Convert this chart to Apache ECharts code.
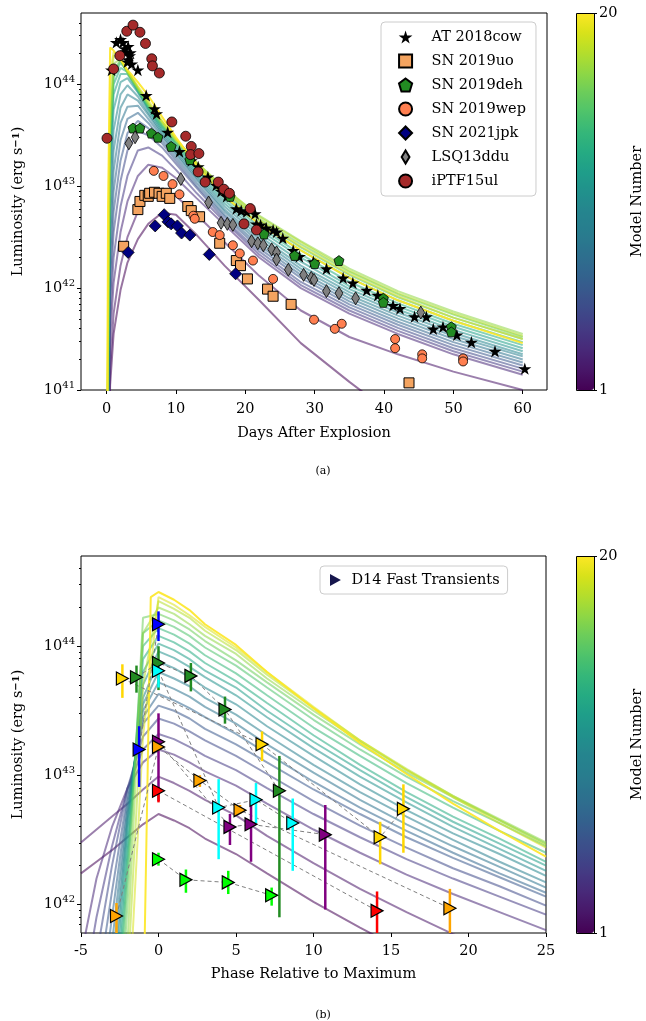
<!DOCTYPE html>
<html>
<head>
<meta charset="utf-8">
<script src="https://cdn.jsdelivr.net/npm/echarts@6/dist/echarts.min.js"></script>
<style>
  html, body { margin: 0; padding: 0; background: #fff; }
  #chart { width: 646px; height: 1021px; }
</style>
</head>
<body>
<div id="chart"></div>
<script>
  // ---- panel (a): model light curves, log10 L at fixed days ----
  const T_A = [0, 0.2, 0.5, 1, 2, 3, 4.5, 6, 8, 10, 13, 17, 22, 28, 35, 42, 50, 60];
  const MODEL_A = [
    [39, 40.0, 41.05, 41.55, 41.98, 42.25, 42.48, 42.63, 42.74, 42.72, 42.52, 42.22, 41.88, 41.46, 41.08, 40.72, 40.3, 39.8],
    [39, 40.2, 41.2, 41.75, 42.22, 42.5, 42.75, 42.93, 42.97, 42.9, 42.72, 42.45, 42.12, 41.78, 41.52, 41.35, 41.18, 41.0],
    [39, 40.3, 41.5, 42.05, 42.55, 42.85, 43.1, 43.21, 43.18, 43.08, 42.88, 42.62, 42.3, 42.0, 41.75, 41.55, 41.35, 41.15],
    [39, 40.3, 41.7, 42.3, 42.8, 43.1, 43.35, 43.38, 43.3, 43.16, 42.93, 42.65, 42.33, 42.03, 41.78, 41.58, 41.38, 41.18],
    [39, 40.4, 41.9, 42.55, 43.05, 43.35, 43.54, 43.5, 43.38, 43.22, 42.98, 42.67, 42.36, 42.06, 41.81, 41.61, 41.41, 41.21],
    [39, 40.5, 42.1, 42.75, 43.25, 43.52, 43.64, 43.57, 43.42, 43.25, 43.0, 42.7, 42.39, 42.1, 41.84, 41.64, 41.44, 41.24],
    [39, 40.6, 42.3, 42.95, 43.45, 43.66, 43.72, 43.62, 43.45, 43.28, 43.03, 42.72, 42.42, 42.13, 41.87, 41.67, 41.47, 41.27],
    [39, 40.7, 42.5, 43.15, 43.62, 43.78, 43.79, 43.66, 43.48, 43.31, 43.06, 42.75, 42.45, 42.16, 41.9, 41.7, 41.5, 41.3],
    [39, 40.8, 42.7, 43.35, 43.77, 43.9, 43.84, 43.7, 43.5, 43.33, 43.08, 42.77, 42.48, 42.19, 41.93, 41.73, 41.53, 41.33],
    [39, 40.9, 42.9, 43.55, 43.9, 43.99, 43.88, 43.72, 43.52, 43.35, 43.1, 42.8, 42.51, 42.22, 41.96, 41.76, 41.56, 41.35],
    [39, 41.0, 43.1, 43.75, 44.02, 44.06, 43.92, 43.75, 43.54, 43.37, 43.12, 42.83, 42.54, 42.26, 41.99, 41.79, 41.59, 41.38],
    [39, 41.1, 43.25, 43.9, 44.1, 44.1, 43.93, 43.76, 43.56, 43.39, 43.14, 42.86, 42.57, 42.3, 42.02, 41.82, 41.62, 41.41],
    [39, 41.2, 43.35, 44.0, 44.16, 44.12, 43.94, 43.77, 43.58, 43.41, 43.16, 42.89, 42.6, 42.33, 42.06, 41.85, 41.65, 41.44],
    [39, 41.3, 43.45, 44.07, 44.21, 44.13, 43.95, 43.78, 43.59, 43.42, 43.18, 42.92, 42.63, 42.37, 42.1, 41.88, 41.68, 41.47],
    [39, 41.35, 43.5, 44.1, 44.23, 44.12, 43.95, 43.79, 43.6, 43.43, 43.2, 42.94, 42.66, 42.4, 42.13, 41.91, 41.71, 41.5],
    [39, 41.4, 43.55, 44.13, 44.24, 44.11, 43.95, 43.8, 43.61, 43.44, 43.21, 42.96, 42.68, 42.43, 42.16, 41.94, 41.74, 41.52],
    [39, 41.5, 43.6, 44.2, 44.25, 44.12, 43.96, 43.81, 43.63, 43.46, 43.23, 42.98, 42.71, 42.46, 42.19, 41.97, 41.77, 41.55],
    [39, 41.7, 43.8, 44.28, 44.26, 44.13, 43.97, 43.82, 43.63, 43.46, 43.23, 42.98, 42.7, 42.45, 42.17, 41.95, 41.75, 41.53],
    [39, 42.0, 44.1, 44.32, 44.25, 44.13, 43.98, 43.84, 43.64, 43.46, 43.22, 42.95, 42.67, 42.41, 42.14, 41.92, 41.71, 41.5],
    [39, 42.8, 44.36, 44.33, 44.24, 44.14, 44.02, 43.89, 43.68, 43.48, 43.2, 42.9, 42.63, 42.37, 42.1, 41.88, 41.68, 41.46]
  ];

  // ---- panel (a): observed transients [day, log10 L] ----
  const AT2018COW = [[0.7, 44.14], [1.4, 44.41], [2.0, 44.44], [2.35, 44.41], [2.6, 44.35], [2.8, 44.32], [3.1, 44.37], [3.3, 44.28], [3.4, 44.31], [3.0, 44.22], [3.1, 44.24], [3.6, 44.20], [4.5, 44.14], [5.7, 43.89], [6.9, 43.76], [7.2, 43.71], [8.8, 43.53], [10.5, 43.34], [12.2, 43.25], [13.2, 43.19], [14.6, 43.09], [15.8, 43.01], [16.5, 42.95], [17.3, 42.90], [18.7, 42.78], [19.4, 42.76], [20.2, 42.75], [21.4, 42.73], [21.6, 42.63], [22.2, 42.62], [23.0, 42.59], [24.0, 42.57], [24.5, 42.55], [25.4, 42.49], [26.9, 42.37], [27.8, 42.31], [29.8, 42.26], [31.7, 42.19], [34.1, 42.10], [35.5, 42.05], [37.5, 41.98], [39.1, 41.93], [41.3, 41.83], [42.3, 41.80], [44.4, 41.72], [46.1, 41.72], [47.1, 41.60], [48.5, 41.62], [50.5, 41.54], [52.6, 41.47], [56.0, 41.38], [60.3, 41.21]];
  const SN2019UO = [[2.45, 42.41], [4.5, 42.77], [4.8, 42.85], [5.5, 42.91], [6.0, 42.90], [6.2, 42.93], [6.9, 42.94], [7.55, 42.93], [8.0, 42.90], [8.6, 42.93], [9.1, 42.88], [11.7, 42.80], [12.2, 42.76], [13.4, 42.70], [16.3, 42.44], [18.7, 42.27], [19.3, 42.22], [20.3, 42.09], [23.2, 41.99], [24.0, 41.92], [26.6, 41.84], [43.6, 41.07]];
  const SN2019DEH = [[3.8, 43.57], [4.8, 43.57], [6.45, 43.52], [7.4, 43.48], [9.3, 43.39], [12.0, 43.26], [17.8, 42.90], [22.7, 42.53], [27.1, 42.32], [30.0, 42.24], [33.5, 42.27], [39.9, 41.90], [39.9, 41.86], [49.7, 41.62], [49.7, 41.57]];
  const SN2019WEP = [[6.8, 43.15], [8.2, 43.10], [9.5, 43.02], [10.5, 42.92], [12.5, 42.71], [12.7, 42.68], [15.3, 42.55], [16.3, 42.52], [18.2, 42.42], [19.2, 42.34], [21.1, 42.27], [24.0, 42.09], [29.9, 41.69], [32.9, 41.60], [33.9, 41.65], [41.6, 41.50], [41.6, 41.41], [45.5, 41.35], [45.5, 41.31], [51.4, 41.31], [51.4, 41.28]];
  const SN2021JPK = [[3.1, 42.35], [7.0, 42.61], [8.3, 42.72], [8.85, 42.65], [9.3, 42.63], [10.2, 42.61], [10.8, 42.54], [12.0, 42.52], [14.8, 42.33], [18.6, 42.14]];
  const LSQ13DDU = [[3.2, 43.42], [4.1, 43.48], [10.7, 43.07], [14.7, 42.84], [16.5, 42.64], [17.4, 42.63], [18.2, 42.62], [20.9, 42.46], [21.8, 42.44], [22.6, 42.42], [23.8, 42.38], [24.5, 42.35], [24.5, 42.28], [26.2, 42.18], [28.4, 42.13], [29.5, 42.10], [29.9, 42.08], [31.7, 41.97], [33.5, 41.95], [35.9, 41.90], [45.3, 41.76]];
  const IPTF15UL = [[0.05, 43.47], [1.0, 44.15], [1.9, 44.28], [2.9, 44.52], [3.8, 44.58], [4.8, 44.51], [5.6, 44.40], [6.5, 44.25], [6.6, 44.18], [7.6, 44.11], [9.4, 43.63], [11.4, 43.49], [12.2, 43.39], [12.1, 43.31], [13.3, 43.32], [13.2, 43.14], [14.2, 43.04], [16.1, 43.04], [16.9, 42.97], [17.7, 42.93], [19.8, 42.63], [20.7, 42.78], [21.6, 42.57]];

  // ---- panel (b): model curves vs phase, log10 L (null = not sampled) ----
  const P_B = [-5, -4, -3, -2, -1, -0.5, 0, 1, 2, 3, 5, 7, 10, 13, 16, 19, 22, 25];
  const MODEL_B = [
    [42.24, 42.33, 42.42, 42.52, 42.62, null, 42.70, 42.65, 42.59, 42.51, 42.39, 42.24, 42.02, 41.82, 41.63, 41.46, 41.31, 41.15],
    [42.48, 42.58, 42.68, 42.78, 42.89, null, 42.99, 42.94, 42.88, 42.81, 42.69, 42.53, 42.32, 42.12, 41.94, 41.77, 41.62, 41.47],
    [41.6, 42.2, 42.6, 42.9, 43.1, null, 43.20, 43.16, 43.10, 43.03, 42.92, 42.78, 42.58, 42.40, 42.23, 42.08, 41.94, 41.80],
    [41.2, 41.9, 42.45, 42.9, 43.2, null, 43.32, 43.28, 43.22, 43.15, 43.04, 42.90, 42.70, 42.52, 42.35, 42.20, 42.06, 41.92],
    [40.9, 41.6, 42.3, 42.9, 43.3, null, 43.44, 43.40, 43.34, 43.27, 43.15, 43.01, 42.80, 42.61, 42.44, 42.28, 42.14, 41.99],
    [40.6, 41.3, 42.1, 42.85, 43.4, null, 43.54, 43.50, 43.44, 43.36, 43.24, 43.10, 42.89, 42.70, 42.52, 42.36, 42.21, 42.06],
    [40.3, 41.0, 41.9, 42.8, 43.45, null, 43.63, 43.58, 43.52, 43.45, 43.32, 43.17, 42.95, 42.75, 42.57, 42.40, 42.24, 42.09],
    [40.0, 40.7, 41.7, 42.75, 43.5, null, 43.72, 43.67, 43.61, 43.53, 43.40, 43.24, 43.02, 42.81, 42.62, 42.45, 42.29, 42.13],
    [39.8, 40.4, 41.5, 42.7, 43.55, null, 43.80, 43.75, 43.69, 43.60, 43.47, 43.31, 43.08, 42.87, 42.68, 42.50, 42.33, 42.17],
    [39.6, 40.1, 41.3, 42.65, 43.6, null, 43.88, 43.83, 43.76, 43.68, 43.55, 43.38, 43.15, 42.93, 42.73, 42.55, 42.39, 42.22],
    [39.4, 39.9, 41.1, 42.6, 43.7, null, 43.96, 43.91, 43.84, 43.76, 43.62, 43.45, 43.21, 42.99, 42.79, 42.60, 42.43, 42.26],
    [39.2, 39.7, 40.9, 42.5, 43.8, null, 44.02, 43.97, 43.90, 43.81, 43.68, 43.50, 43.26, 43.04, 42.83, 42.64, 42.47, 42.30],
    [39.0, 39.5, 40.7, 42.4, 43.9, null, 44.08, 44.03, 43.96, 43.87, 43.73, 43.56, 43.31, 43.08, 42.87, 42.68, 42.51, 42.33],
    [38.8, 39.3, 40.5, 42.3, 44.0, null, 44.14, 44.09, 44.02, 43.93, 43.79, 43.62, 43.37, 43.15, 42.94, 42.75, 42.57, 42.40],
    [38.6, 39.1, 40.3, 42.2, 44.1, null, 44.20, 44.15, 44.08, 43.99, 43.85, 43.68, 43.43, 43.20, 42.99, 42.80, 42.63, 42.45],
    [38.4, 38.9, 40.1, 42.0, 44.22, null, 44.25, 44.20, 44.13, 44.04, 43.89, 43.72, 43.47, 43.24, 43.02, 42.83, 42.65, 42.47],
    [38.2, 38.7, 39.9, 41.7, 44.1, null, 44.30, 44.25, 44.17, 44.08, 43.94, 43.75, 43.50, 43.26, 43.04, 42.84, 42.66, 42.48],
    [38.0, 38.5, 39.7, 41.4, 43.7, null, 44.35, 44.29, 44.22, 44.12, 43.97, 43.78, 43.52, 43.27, 43.05, 42.84, 42.65, 42.46],
    [38.0, 38.3, 39.5, 41.0, 43.3, null, 44.38, 44.32, 44.24, 44.15, 43.99, 43.80, 43.53, 43.27, 43.04, 42.83, 42.63, 42.44],
    [38.0, 38.0, 38.5, 39.5, 41.0, 44.38, 44.42, 44.36, 44.28, 44.17, 44.01, 43.80, 43.52, 43.25, 43.01, 42.78, 42.57, 42.37]
  ];

  // ---- panel (b): D14 fast transients, [phase, log10 L] and [lo, hi] ----
  const D14_NAMES = ['gold', 'green', 'blue', 'cyan', 'purple', 'orange', 'red', 'lime'];
  const D14_PTS = [
    [[-2.33, 43.75], [6.68, 43.24], [14.3, 42.52], [15.8, 42.74]],
    [[-1.42, 43.76], [0, 43.87], [2.09, 43.77], [4.29, 43.51], [7.8, 42.88]],
    [[-1.25, 43.20], [0, 44.17]],
    [[0, 43.81], [3.88, 42.75], [6.29, 42.81], [8.66, 42.63]],
    [[0, 43.26], [4.61, 42.60], [5.97, 42.62], [10.76, 42.54]],
    [[-2.71, 41.91], [0, 43.22], [2.67, 42.96], [5.26, 42.73], [18.8, 41.97]],
    [[0, 42.88], [14.1, 41.95]],
    [[0, 42.35], [1.77, 42.19], [4.5, 42.17], [7.3, 42.07]]
  ];
  const D14_ERR = [
    [[43.60, 43.86], [43.11, 43.34], [42.31, 42.64], [42.40, 42.93]],
    [[43.64, 43.85], [43.66, 44.00], [43.65, 43.87], [43.40, 43.61], [41.90, 43.15]],
    [[42.91, 43.38], [44.04, 44.27]],
    [[43.68, 43.87], [42.35, 42.97], [42.63, 42.94], [42.26, 42.82]],
    [[42.80, 43.48], [42.46, 42.70], [42.33, 42.81], [41.96, 42.77]],
    [[41.70, 42.01], [43.19, 43.25], [42.91, 43.00], [42.70, 42.77], [41.75, 42.12]],
    [[42.79, 42.91], [41.75, 42.10]],
    [[42.30, 42.40], [42.09, 42.27], [42.08, 42.26], [41.99, 42.13]]
  ];

  const X_TICKS_A = [0, 10, 20, 30, 40, 50, 60];
  const Y_TICKS_A = [1e41, 1e42, 1e43, 1e44];
  const Y_TICKS_B = [1e42, 1e43, 1e44];

  const FONT = 'DejaVu Serif';
  const VIRIDIS = ['#440154', '#481668', '#482878', '#443983', '#3e4989', '#38588c', '#31668e', '#2c728e', '#287d8e', '#25858e',
    '#21918c', '#1f9e89', '#25ab82', '#35b779', '#4ec36b', '#6ccd5a', '#8fd744', '#b4de2c', '#d8e219', '#fde725'];
  const D14_COLORS = {gold: '#ffd700', green: '#228b22', blue: '#0000ff', cyan: '#00ffff', purple: '#800080', orange: '#ffa500', red: '#ff0000', lime: '#00ff00'};
  const STAR = 'path://M50,0 L61,35 L98,35 L68,57 L79,91 L50,70 L21,91 L32,57 L2,35 L39,35 Z';
  const PENTA = 'path://M50,0 L98,36 L80,95 L20,95 L2,36 Z';
  const SQUARE = 'path://M0,0 L100,0 L100,100 L0,100 Z';
  const DIAMOND = 'path://M50,0 L100,50 L50,100 L0,50 Z';
  const THIN_DIAMOND = 'path://M50,0 L80,50 L50,100 L20,50 Z';
  const TRI = 'path://M0,0 L100,55 L0,110 Z';

  function minorTicks(lo, hi) {
    let out = [];
    for (let e = 41; e <= 44; e++) {
      for (let k = 2; k <= 9; k++) {
        let v = k * Math.pow(10, e);
        if (v >= lo && v <= hi) out.push(v);
      }
    }
    return out;
  }
  function toL(pairs) {
    return pairs.map(function (p) { return [p[0], Math.pow(10, p[1])]; });
  }
  function powLabel(v) {
    return '{b|10}{s|' + Math.round(Math.log10(v)) + '}';
  }
  function lineAlpha(i) {
    return i === VIRIDIS.length - 1 ? 0.9 : 0.55;
  }

  const axisText = {color: '#000', fontFamily: FONT, fontSize: 14.5};
  const tickStyle = {color: '#000', width: 1};

  let series = [];
  MODEL_A.forEach(function (row, i) {
    series.push({
      type: 'line', xAxisIndex: 0, yAxisIndex: 0, symbol: 'none', silent: true, z: 2,
      lineStyle: {color: VIRIDIS[i], width: 2, opacity: lineAlpha(i)},
      data: row.map(function (v, k) { return [T_A[k], Math.pow(10, v)]; })
    });
  });
  MODEL_B.forEach(function (row, i) {
    let d = [];
    row.forEach(function (v, k) { if (v !== null) d.push([P_B[k], Math.pow(10, v)]); });
    series.push({
      type: 'line', xAxisIndex: 1, yAxisIndex: 2, symbol: 'none', silent: true, z: 2,
      lineStyle: {color: VIRIDIS[i], width: 2, opacity: lineAlpha(i)},
      data: d
    });
  });

  const obsA = [
    {name: 'AT 2018cow', data: AT2018COW, symbol: STAR, size: 13, color: '#000000', border: 0},
    {name: 'SN 2019uo', data: SN2019UO, symbol: SQUARE, size: 10, color: '#f4a460', border: 1},
    {name: 'SN 2019deh', data: SN2019DEH, symbol: PENTA, size: 10, color: '#228b22', border: 0.8},
    {name: 'SN 2019wep', data: SN2019WEP, symbol: 'circle', size: 9, color: '#ff7f50', border: 0.8},
    {name: 'SN 2021jpk', data: SN2021JPK, symbol: DIAMOND, size: 12, color: '#000080', border: 0.8},
    {name: 'LSQ13ddu', data: LSQ13DDU, symbol: THIN_DIAMOND, size: 13, color: '#808080', border: 0.8},
    {name: 'iPTF15ul', data: IPTF15UL, symbol: 'circle', size: 10, color: '#a52a2a', border: 0.8}
  ];
  obsA.forEach(function (o, i) {
    series.push({
      type: 'scatter', name: o.name, xAxisIndex: 0, yAxisIndex: 0, z: 5 + i,
      symbol: o.symbol, symbolSize: o.size, symbolKeepAspect: true,
      itemStyle: {color: o.color, borderColor: '#000', borderWidth: o.border, opacity: 1},
      data: toL(o.data)
    });
  });

  D14_PTS.forEach(function (pts, i) {
    let c = D14_COLORS[D14_NAMES[i]];
    series.push({
      type: 'line', xAxisIndex: 1, yAxisIndex: 2, symbol: 'none', silent: true, z: 3,
      lineStyle: {color: '#808080', width: 1, type: [4, 3]},
      data: toL(pts)
    });
    series.push({
      type: 'custom', xAxisIndex: 1, yAxisIndex: 2, silent: true, z: 4, clip: true,
      encode: {x: 0, y: [1, 2]},
      renderItem: function (params, api) {
        let a = api.coord([api.value(0), api.value(1)]);
        let b = api.coord([api.value(0), api.value(2)]);
        return {type: 'line', shape: {x1: a[0], y1: a[1], x2: b[0], y2: b[1]}, style: {stroke: c, lineWidth: 2.5}};
      },
      data: pts.map(function (p, k) { return [p[0], Math.pow(10, D14_ERR[i][k][0]), Math.pow(10, D14_ERR[i][k][1])]; })
    });
    series.push({
      type: 'scatter', name: 'D14 Fast Transients', xAxisIndex: 1, yAxisIndex: 2, z: 6,
      symbol: TRI, symbolSize: [12, 13],
      itemStyle: {color: c, borderColor: '#000', borderWidth: 1.2, opacity: 1},
      data: toL(pts)
    });
  });

  // empty series for the colorbars
  const cbA = series.length;
  series.push({type: 'scatter', xAxisIndex: 2, yAxisIndex: 4, data: []});
  const cbB = series.length;
  series.push({type: 'scatter', xAxisIndex: 3, yAxisIndex: 5, data: []});

  function mainY(grid, min, max, ticks, nameGap) {
    return [{
      gridIndex: grid, type: 'log', logBase: 10, min: min, max: max, position: 'left',
      name: '{n|Luminosity (erg s}{sup|\u22121}{n|)}', nameLocation: 'middle', nameGap: nameGap,
      nameTextStyle: {rich: {n: {fontFamily: FONT, fontSize: 14.5, color: '#000'}, sup: {fontFamily: FONT, fontSize: 10, color: '#000', fontWeight: 'bold', verticalAlign: 'top'}}},
      axisLine: {show: false, onZero: false}, splitLine: {show: false},
      axisTick: {show: true, length: 4, lineStyle: tickStyle, customValues: ticks},
      axisLabel: {customValues: ticks, formatter: powLabel, margin: 6,
        rich: {b: {fontFamily: FONT, fontSize: 14.5, color: '#000', lineHeight: 19}, s: {fontFamily: FONT, fontSize: 10, color: '#000', verticalAlign: 'top'}}}
    }, {
      gridIndex: grid, type: 'log', logBase: 10, min: min, max: max, position: 'left',
      axisLine: {show: false, onZero: false}, splitLine: {show: false}, axisLabel: {show: false},
      axisTick: {show: true, length: 2, lineStyle: tickStyle, customValues: minorTicks(min, max)}
    }];
  }
  function cbY(grid) {
    return {
      gridIndex: grid, type: 'value', min: 1, max: 20, interval: 19, position: 'right',
      name: 'Model Number', nameLocation: 'middle', nameRotate: 90, nameGap: 37,
      nameTextStyle: {fontFamily: FONT, fontSize: 14.5, color: '#000'},
      axisLine: {show: false, onZero: false}, splitLine: {show: false},
      axisTick: {show: true, length: 4, lineStyle: tickStyle},
      axisLabel: Object.assign({margin: 6}, axisText)
    };
  }

  const option = {
    animation: false,
    backgroundColor: '#fff',
    title: [
      {text: '(a)', left: 'center', top: 461, textStyle: {fontFamily: FONT, fontSize: 11, fontWeight: 'normal', color: '#000'}},
      {text: '(b)', left: 'center', top: 1005, textStyle: {fontFamily: FONT, fontSize: 11, fontWeight: 'normal', color: '#000'}}
    ],
    grid: [
      {left: 81, top: 13, width: 466, height: 377, show: true, borderColor: '#000', borderWidth: 1},
      {left: 81, top: 556, width: 465, height: 377, show: true, borderColor: '#000', borderWidth: 1},
      {left: 576, top: 13, width: 18, height: 377},
      {left: 576, top: 556, width: 18, height: 377}
    ],
    xAxis: [
      {gridIndex: 0, type: 'value', min: -3.7, max: 63.5,
        name: 'Days After Explosion', nameLocation: 'middle', nameGap: 36,
        nameTextStyle: {fontFamily: FONT, fontSize: 14.5, color: '#000'},
        axisLine: {show: false, onZero: false}, splitLine: {show: false},
        axisTick: {show: true, length: 4, lineStyle: tickStyle, customValues: X_TICKS_A},
        axisLabel: Object.assign({customValues: X_TICKS_A, margin: 12}, axisText)},
      {gridIndex: 1, type: 'value', min: -5, max: 25, interval: 5,
        name: 'Phase Relative to Maximum', nameLocation: 'middle', nameGap: 34,
        nameTextStyle: {fontFamily: FONT, fontSize: 14.5, color: '#000'},
        axisLine: {show: false, onZero: false}, splitLine: {show: false},
        axisTick: {show: true, length: 4, lineStyle: tickStyle},
        axisLabel: Object.assign({margin: 11}, axisText)},
      {gridIndex: 2, type: 'value', show: false},
      {gridIndex: 3, type: 'value', show: false}
    ],
    yAxis: [].concat(
      mainY(0, 1e41, 5e44, Y_TICKS_A, 55),
      mainY(1, 6e41, 5e44, Y_TICKS_B, 55),
      [cbY(2), cbY(3)]
    ),
    visualMap: [
      {type: 'continuous', min: 1, max: 20, left: 576, top: 13, itemWidth: 18, itemHeight: 377, padding: 0,
        calculable: false, hoverLink: false, seriesIndex: cbA, inRange: {color: VIRIDIS}},
      {type: 'continuous', min: 1, max: 20, left: 576, top: 556, itemWidth: 18, itemHeight: 377, padding: 0,
        calculable: false, hoverLink: false, seriesIndex: cbB, inRange: {color: VIRIDIS}}
    ],
    legend: [
      {orient: 'vertical', left: 381, top: 22, itemWidth: 14, itemHeight: 13, itemGap: 6,
        padding: [6, 10, 6, 17], borderColor: '#cccccc', borderWidth: 1, borderRadius: 4,
        backgroundColor: 'rgba(255,255,255,0.8)',
        textStyle: {fontFamily: FONT, fontSize: 14.5, color: '#000', padding: [0, 0, 0, 14], lineHeight: 18},
        data: obsA.map(function (o) { return o.name; })},
      {orient: 'vertical', left: 320, top: 566, itemWidth: 12, itemHeight: 12, itemGap: 8,
        padding: [5, 8, 5, 10], borderColor: '#cccccc', borderWidth: 1, borderRadius: 4,
        backgroundColor: 'rgba(255,255,255,0.8)',
        textStyle: {fontFamily: FONT, fontSize: 14.5, color: '#000', padding: [0, 0, 0, 5], lineHeight: 18},
        data: [{name: 'D14 Fast Transients', icon: TRI, itemStyle: {color: '#16164d', borderWidth: 0}}]}
    ],
    graphic: [
      {type: 'rect', shape: {x: 576.5, y: 13.5, width: 18, height: 377}, style: {fill: 'none', stroke: '#000', lineWidth: 1}, z: 100},
      {type: 'rect', shape: {x: 576.5, y: 556.5, width: 18, height: 377}, style: {fill: 'none', stroke: '#000', lineWidth: 1}, z: 100}
    ],
    series: series
  };

  const chart = echarts.init(document.getElementById('chart'), null, {renderer: 'canvas'});
  chart.setOption(option);
</script>
</body>
</html>
